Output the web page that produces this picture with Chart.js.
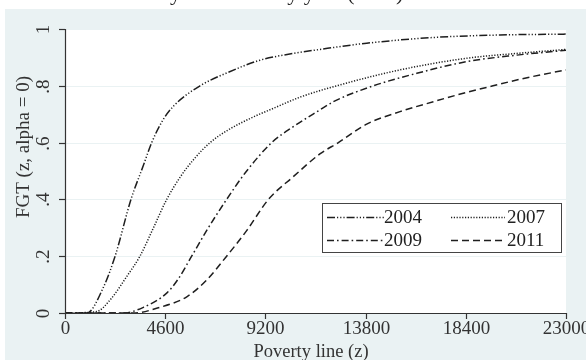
<!DOCTYPE html>
<html><head><meta charset="utf-8">
<script src="https://cdn.jsdelivr.net/npm/chart.js@4/dist/chart.umd.min.js"></script>
<style>html,body{margin:0;padding:0;background:#fff}#wrap{width:586px;height:360px}</style>
</head><body><div id="wrap"><canvas id="c" width="586" height="360"></canvas></div>
<script>
const seriesLabels = ["2004", "2007", "2009", "2011"];
const xTicks = [0, 4600, 9200, 13800, 18400, 23000];
const xTickLabels = ["0", "4600", "9200", "13800", "18400", "23000"];
const yTicks = [0, 0.2, 0.4, 0.6, 0.8, 1];
const yTickLabels = ["0", ".2", ".4", ".6", ".8", "1"];

const z2004 = [0, 1000, 1760, 2300, 3030, 3600, 3980, 4500, 5000, 6200, 7420, 8950, 10480, 11700, 13850, 16900, 19970, 23000];
const f2004 = [0, 0, 0.09, 0.2, 0.4, 0.52, 0.6, 0.68, 0.73, 0.8, 0.845, 0.89, 0.914, 0.928, 0.95, 0.97, 0.979, 0.982];
const z2007 = [0, 1450, 2070, 2830, 3440, 4060, 4670, 5300, 5900, 6660, 7500, 8500, 9700, 10790, 12470, 15380, 18440, 20740, 23000];
const f2007 = [0, 0.005, 0.046, 0.128, 0.2, 0.3, 0.4, 0.48, 0.54, 0.6, 0.645, 0.685, 0.725, 0.76, 0.8, 0.856, 0.897, 0.914, 0.928];
const z2009 = [0, 2680, 3600, 4670, 5200, 5815, 6500, 7420, 8340, 9490, 10480, 11700, 12320, 14160, 16150, 18440, 20740, 23000];
const f2009 = [0, 0, 0.02, 0.07, 0.12, 0.2, 0.29, 0.4, 0.5, 0.6, 0.656, 0.715, 0.744, 0.8, 0.844, 0.885, 0.908, 0.925];
const z2011 = [0, 3140, 4360, 5590, 6500, 7420, 8340, 9340, 10480, 11700, 12550, 13850, 15380, 16910, 18440, 19650, 21000, 23000];
const f2011 = [0, 0, 0.02, 0.057, 0.116, 0.2, 0.29, 0.4, 0.48, 0.56, 0.6, 0.665, 0.709, 0.744, 0.777, 0.8, 0.825, 0.856];

const BG = '#eaf2f3';
const INK = '#1e1e1e';
const SERIF = '"Liberation Serif", "DejaVu Serif", serif';
const dashes = [[8,2,1.2,2,1.2,2,1.2,2],[1.2,1.6],[7,3,1.6,3],[7,4]];

function pts(xs, ys){ return xs.map((x,i)=>({x:x, y:ys[i]})); }
const allZ = [z2004, z2007, z2009, z2011];
const allF = [f2004, f2007, f2009, f2011];

const datasets = seriesLabels.map((lab,i)=>({
  label: lab,
  data: pts(allZ[i], allF[i]),
  borderColor: INK,
  borderWidth: 1.5,
  borderDash: dashes[i],
  pointRadius: 0,
  fill: false,
  cubicInterpolationMode: 'monotone',
  borderCapStyle: 'butt'
}));

const deco = {
  id: 'deco',
  beforeDraw(chart){
    const ctx = chart.ctx, a = chart.chartArea, ys = chart.scales.y;
    ctx.save();
    ctx.fillStyle = '#fff'; ctx.fillRect(0,0,586,360);
    ctx.fillStyle = BG; ctx.fillRect(5,9,581,351);
    ctx.fillStyle = '#fff'; ctx.fillRect(a.left, a.top, a.right-a.left, a.bottom-a.top);
    // title (cropped at top: only descenders remain visible)
    ctx.fillStyle = '#222'; ctx.font = '22px ' + SERIF; ctx.textAlign='center'; ctx.textBaseline='alphabetic';
    ctx.beginPath(); ctx.rect(0,0,586,9); ctx.clip();
    ctx.fillText('Poverty incidence by year (FGT)', 258, 0);
    ctx.restore();
    ctx.save();
    ctx.strokeStyle = BG; ctx.lineWidth = 1.2;
    yTicks.forEach(v=>{ if(v===0) return; const y = Math.round(ys.getPixelForValue(v))+0.5;
      ctx.beginPath(); ctx.moveTo(a.left, y); ctx.lineTo(a.right, y); ctx.stroke(); });
    ctx.restore();
  },
  afterDatasetsDraw(chart){
    const ctx = chart.ctx, a = chart.chartArea, xs = chart.scales.x, ys = chart.scales.y;
    ctx.save();
    ctx.strokeStyle = '#333'; ctx.lineWidth = 1.2;
    ctx.beginPath(); ctx.moveTo(a.left+0.5, a.top); ctx.lineTo(a.left+0.5, a.bottom+0.5);
    ctx.lineTo(a.right, a.bottom+0.5); ctx.stroke();
    ctx.fillStyle = '#333'; ctx.font = '19px ' + SERIF;
    ctx.textAlign = 'center'; ctx.textBaseline = 'middle';
    xTicks.forEach((v,i)=>{ const x = Math.round(xs.getPixelForValue(v))+0.5;
      ctx.beginPath(); ctx.moveTo(x, a.bottom); ctx.lineTo(x, a.bottom+6); ctx.stroke();
      ctx.fillText(xTickLabels[i], x, a.bottom+16); });
    yTicks.forEach((v,i)=>{ const y = Math.round(ys.getPixelForValue(v))+0.5;
      ctx.beginPath(); ctx.moveTo(a.left, y); ctx.lineTo(a.left-6, y); ctx.stroke();
      ctx.save(); ctx.translate(a.left-21, y); ctx.rotate(-Math.PI/2);
      ctx.fillText(yTickLabels[i], 0, 0); ctx.restore(); });
    ctx.font = '18.5px ' + SERIF;
    ctx.fillText('Poverty line (z)', 311, 352);
    ctx.font = '19px ' + SERIF;
    ctx.save(); ctx.translate(24, 147); ctx.rotate(-Math.PI/2);
    ctx.fillText('FGT (z, alpha = 0)', 0, 0); ctx.restore();
    // legend
    const L = 322, T = 203, R = 561, B = 252;
    ctx.fillStyle = '#fff'; ctx.fillRect(L, T, R-L, B-T);
    ctx.strokeStyle = '#444'; ctx.lineWidth = 1; ctx.strokeRect(L+0.5, T+0.5, R-L, B-T);
    const items = [
      {x0:327, x1:384, tx:384, y:217},
      {x0:451, x1:505, tx:507, y:217},
      {x0:327, x1:384, tx:384, y:240},
      {x0:451, x1:505, tx:507, y:240}
    ];
    ctx.font = '19px ' + SERIF; ctx.textAlign = 'left'; ctx.textBaseline = 'middle';
    chart.data.datasets.forEach((ds,i)=>{
      const it = items[i];
      ctx.strokeStyle = INK; ctx.lineWidth = 1.5; ctx.setLineDash(ds.borderDash);
      ctx.beginPath(); ctx.moveTo(it.x0, it.y+0.5); ctx.lineTo(it.x1, it.y+0.5); ctx.stroke();
      ctx.setLineDash([]);
      ctx.fillStyle = '#222'; ctx.fillText(ds.label, it.tx, it.y+1);
    });
    ctx.restore();
  }
};

new Chart(document.getElementById('c'), {
  type: 'line',
  data: { datasets },
  options: {
    responsive: false, animation: false, devicePixelRatio: 1,
    layout: { padding: { left: 65, right: 20, top: 29, bottom: 47 } },
    plugins: { legend: { display: false }, tooltip: { enabled: false }, title: { display: false } },
    scales: {
      x: { type: 'linear', min: 0, max: 23000, display: false },
      y: { type: 'linear', min: 0, max: 1, display: false }
    }
  },
  plugins: [deco]
});
</script></body></html>
